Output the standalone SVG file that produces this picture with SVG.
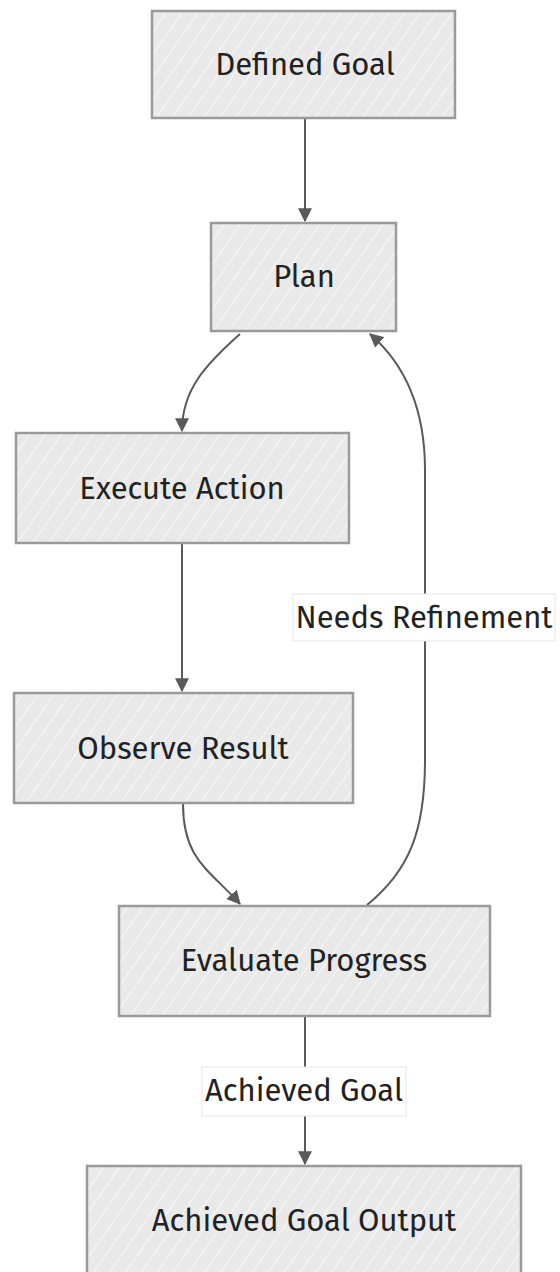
<svg xmlns="http://www.w3.org/2000/svg" width="560" height="1272" viewBox="0 0 560 1272">
  <style>
    .box { fill: url(#hatch); stroke: #9a9a9a; stroke-width: 2.5; }
    .lbl { font-family: "Fira Sans", "Open Sans", "Noto Sans", sans-serif; font-size: 31px; fill: #222; text-anchor: middle; dominant-baseline: central; }
    .edge { fill: none; stroke: #5a5a5a; stroke-width: 2; }
    .elbl-bg { fill: #ffffff; stroke: #e6e6e6; stroke-width: 1; }
  </style>
  <defs>
    <pattern id="hatch" patternUnits="userSpaceOnUse" width="13" height="13" patternTransform="rotate(35)">
      <rect width="13" height="13" fill="#e9e9e9"/>
      <line x1="0" y1="0" x2="0" y2="13" stroke="#ffffff" stroke-width="1.4"/>
    </pattern>
    <marker id="arr" viewBox="0 0 12 12" refX="11" refY="6" markerWidth="14" markerHeight="14" markerUnits="userSpaceOnUse" orient="auto">
      <path d="M0,0 L12,6 L0,12 z" fill="#5a5a5a"/>
    </marker>
  </defs>

  <g id="edges">
    <path class="edge" d="M305,118 L305,221" marker-end="url(#arr)"/>
    <path class="edge" d="M240,334 C205,365 182,390 182,431" marker-end="url(#arr)"/>
    <path class="edge" d="M182,543 L182,691" marker-end="url(#arr)"/>
    <path class="edge" d="M183,804 C183,860 210,870 240,904" marker-end="url(#arr)"/>
    <path class="edge" d="M367,905 C410,870 425,830 425,760 L425,470 C425,400 400,360 370,334" marker-end="url(#arr)"/>
    <path class="edge" d="M305,1016 L305,1164" marker-end="url(#arr)"/>
  </g>

  <g id="edge-labels">
    <g id="label-needs-refinement">
      <rect class="elbl-bg" x="293" y="594" width="262" height="47"/>
      <text class="lbl" x="424" y="617">Needs Refinement</text>
    </g>
    <g id="label-achieved-goal">
      <rect class="elbl-bg" x="202" y="1067" width="204" height="49"/>
      <text class="lbl" x="304" y="1090">Achieved Goal</text>
    </g>
  </g>

  <g id="node-defined-goal">
    <rect class="box" x="152" y="11" width="303" height="107"/>
    <text class="lbl" x="305" y="64">Defined Goal</text>
  </g>
  <g id="node-plan">
    <rect class="box" x="211" y="223" width="185" height="108"/>
    <text class="lbl" x="304" y="276">Plan</text>
  </g>
  <g id="node-execute-action">
    <rect class="box" x="16" y="433" width="333" height="110"/>
    <text class="lbl" x="182" y="488">Execute Action</text>
  </g>
  <g id="node-observe-result">
    <rect class="box" x="14" y="693" width="339" height="110"/>
    <text class="lbl" x="183" y="748">Observe Result</text>
  </g>
  <g id="node-evaluate-progress">
    <rect class="box" x="119" y="906" width="371" height="110"/>
    <text class="lbl" x="304" y="960">Evaluate Progress</text>
  </g>
  <g id="node-achieved-goal-output">
    <rect class="box" x="87" y="1166" width="434" height="110"/>
    <text class="lbl" x="304" y="1220">Achieved Goal Output</text>
  </g>
</svg>
